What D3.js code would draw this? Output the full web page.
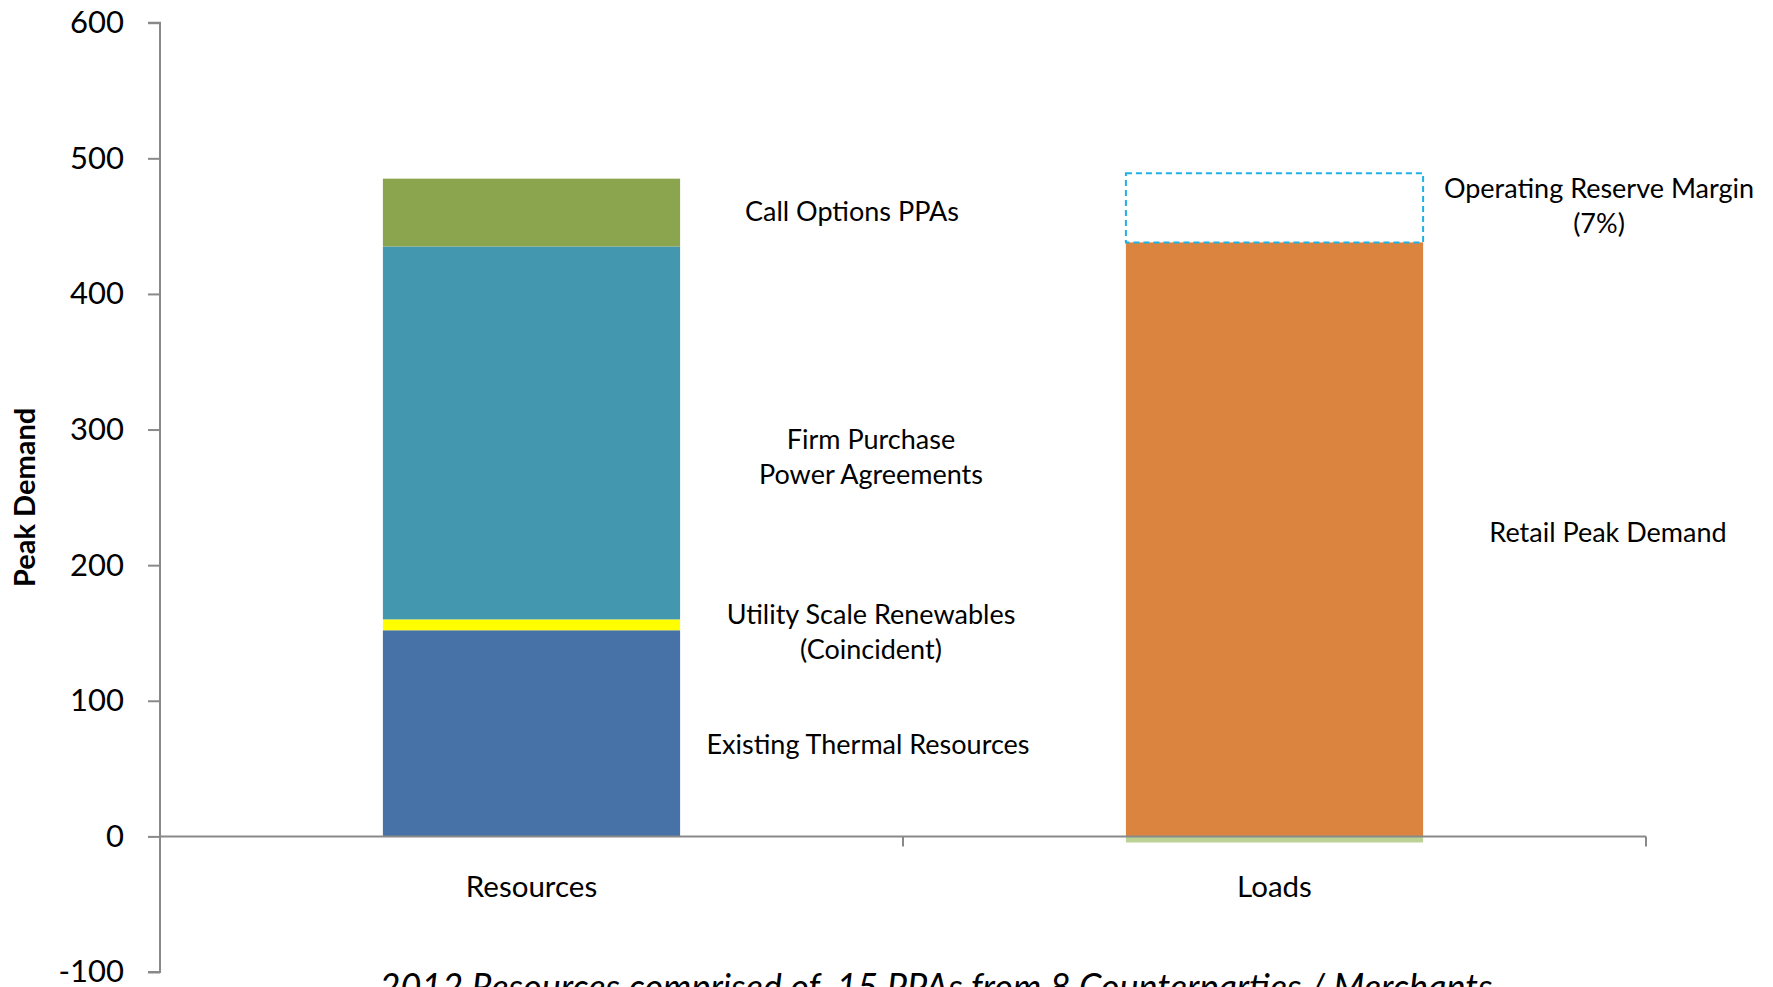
<!DOCTYPE html>
<html>
<head>
<meta charset="utf-8">
<script src="https://cdn.jsdelivr.net/npm/d3@7"></script>
<style>
  html, body { margin: 0; padding: 0; background: #fff; overflow: hidden; }
  svg { display: block; font-family: Lato, "Open Sans", sans-serif; }
</style>
</head>
<body>
<div id="chart"></div>
<script>
// categories and series (MW of peak demand)
const categories = ['Resources', 'Loads'];
const thermal = [152, 0];
const renewables = [8, 0];
const firmPPA = [275, 0];
const callOptions = [50, 0];
const retailPeak = [0, 438];
const reserveMargin = [0, 51];
const negativeAdj = [0, -4.5];
const yTicks = [-100, 0, 100, 200, 300, 400, 500, 600];

const seriesKeys = ['thermal', 'renewables', 'firmPPA', 'callOptions', 'retailPeak', 'reserveMargin', 'negativeAdj'];
const seriesColors = {
  thermal: '#4672a7',
  renewables: '#ffff00',
  firmPPA: '#4398b0',
  callOptions: '#8ba54f',
  retailPeak: '#db843f',
  reserveMargin: 'none',
  negativeAdj: '#bbd295'
};

// annotations: text lines, anchored at a value on the y axis
const notes = [
  { lines: ['Call Options PPAs'], x: 852, v: 461 },
  { lines: ['Firm Purchase', 'Power Agreements'], x: 871, v: 279.5 },
  { lines: ['Utility Scale Renewables', '(Coincident)'], x: 871, v: 150.5 },
  { lines: ['Existing Thermal Resources'], x: 868, v: 68 },
  { lines: ['Operating Reserve Margin', '(7%)'], x: 1599, v: 464.5 },
  { lines: ['Retail Peak Demand'], x: 1608, v: 224 }
];

const width = 1773, height = 987;
const mLeft = 160, mRight = 1646, mTop = 22.7, mBottom = 972;

const table = categories.map((c, i) => ({
  category: c,
  thermal: thermal[i],
  renewables: renewables[i],
  firmPPA: firmPPA[i],
  callOptions: callOptions[i],
  retailPeak: retailPeak[i],
  reserveMargin: reserveMargin[i],
  negativeAdj: negativeAdj[i]
}));

const svg = d3.select('#chart')
  .append('svg')
  .attr('width', width)
  .attr('height', height);

const x = d3.scaleBand().domain(categories).range([mLeft, mRight]).padding(0);
const y = d3.scaleLinear().domain([-100, 600]).range([mBottom, mTop]);
const barW = x.bandwidth() * 0.4;

const stacked = d3.stack().keys(seriesKeys).offset(d3.stackOffsetDiverging)(table);

// bars
const layers = svg.append('g').attr('class', 'bars')
  .selectAll('g')
  .data(stacked)
  .enter()
  .append('g')
  .attr('fill', d => seriesColors[d.key]);

layers.selectAll('rect')
  .data(d => d.map(p => Object.assign(p, { key: d.key })).filter(p => p[1] !== p[0]))
  .enter()
  .append('rect')
  .attr('x', d => x(d.data.category) + (x.bandwidth() - barW) / 2)
  .attr('width', barW)
  .attr('y', d => y(Math.max(d[0], d[1])))
  .attr('height', d => Math.abs(y(d[0]) - y(d[1])))
  .attr('stroke', d => d.key === 'reserveMargin' ? '#1fb1e6' : 'none')
  .attr('stroke-width', d => d.key === 'reserveMargin' ? 2 : 0)
  .attr('stroke-dasharray', d => d.key === 'reserveMargin' ? '6,4' : null);

// y axis
const yAxis = svg.append('g')
  .attr('transform', `translate(${mLeft},0)`)
  .call(d3.axisLeft(y).tickValues(yTicks).tickSize(12).tickPadding(24).tickFormat(d => String(d)));
yAxis.selectAll('line, path').attr('stroke', '#898989').attr('stroke-width', 2);
yAxis.selectAll('text').attr('font-size', 31).attr('fill', '#000').attr('font-family', 'Lato, sans-serif');
yAxis.select('.domain').attr('d', `M-12,${mTop}H0V${mBottom}H-12`);

// x axis at zero, ticks between categories
const xAxisG = svg.append('g').attr('class', 'x-axis');
xAxisG.append('line')
  .attr('x1', mLeft).attr('x2', mRight)
  .attr('y1', y(0)).attr('y2', y(0))
  .attr('stroke', '#898989').attr('stroke-width', 2);
const bounds = categories.map(c => x(c)).concat([x(categories[categories.length - 1]) + x.bandwidth()]);
xAxisG.selectAll('line.tick')
  .data(bounds.slice(1))
  .enter()
  .append('line')
  .attr('class', 'tick')
  .attr('x1', d => d).attr('x2', d => d)
  .attr('y1', y(0)).attr('y2', y(0) + 10)
  .attr('stroke', '#898989').attr('stroke-width', 2);
xAxisG.selectAll('text')
  .data(categories)
  .enter()
  .append('text')
  .attr('x', d => x(d) + x.bandwidth() / 2)
  .attr('y', 886.5)
  .attr('dy', '0.35em')
  .attr('text-anchor', 'middle')
  .attr('font-size', 29.5)
  .text(d => d);

// y axis title
svg.append('text')
  .attr('transform', `translate(25,${y(250)}) rotate(-90)`)
  .attr('text-anchor', 'middle')
  .attr('dy', '0.35em')
  .attr('font-size', 29)
  .attr('font-weight', 'bold')
  .text('Peak Demand');

// annotations
const lineH = 35;
notes.forEach(n => {
  const t = svg.append('text')
    .attr('text-anchor', 'middle')
    .attr('font-size', 27)
    .attr('fill', '#000');
  const y0 = y(n.v) - (n.lines.length - 1) * lineH / 2;
  n.lines.forEach((l, i) => {
    t.append('tspan')
      .attr('x', n.x)
      .attr('y', y0 + i * lineH)
      .attr('dy', '0.35em')
      .text(l);
  });
});

// footnote (cut off at the bottom edge, as in the source)
svg.append('text')
  .attr('x', 936)
  .attr('y', 1000)
  .attr('text-anchor', 'middle')
  .attr('font-size', 36)
  .attr('font-style', 'italic')
  .style('white-space', 'pre')
  .text('2012 Resources comprised of  15 PPAs from 8 Counterparties / Merchants');
</script>
</body>
</html>
